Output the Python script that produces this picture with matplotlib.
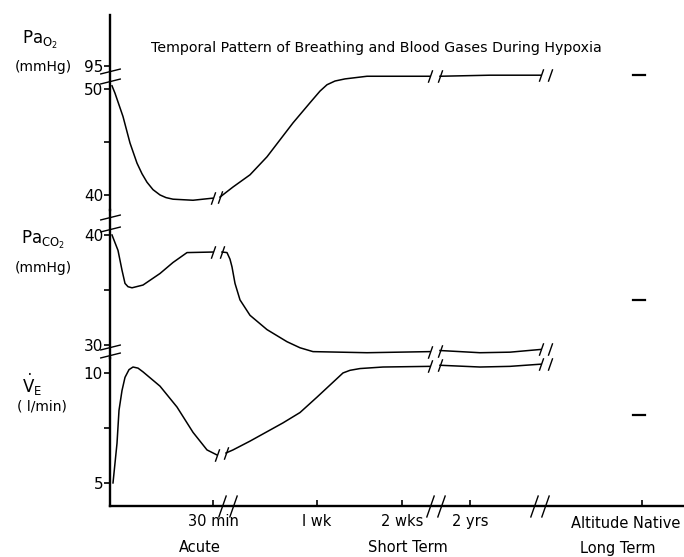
import numpy as np
import matplotlib
matplotlib.use('Agg')
import matplotlib.pyplot as plt

plt.rcParams['font.family'] = ['DejaVu Sans']
plt.rcParams['mathtext.fontset'] = 'dejavusans'

# time axis (arbitrary position units)
tick_pos = [10.3, 20.7, 29.2, 36.0, 53.2]
tick_lab = ['30 min', 'l wk', '2 wks', '2 yrs', '']
phase_lab = ['Acute', 'Short Term', 'Long Term']
phase_pos = [9.0, 29.8, 50.8]

# PaO2 (mmHg)
pao2_acute_x = [0.2, 0.5, 1.3, 2.0, 2.7, 3.2, 3.7, 4.3, 5.0, 5.6, 6.3, 8.3, 10.3]
pao2_acute = [50.3, 49.6, 47.4, 44.9, 43.0, 42.0, 41.2, 40.5, 40.0, 39.75, 39.6, 39.5, 39.7]
pao2_short_x = [11.0, 12.3, 14.0, 15.7, 17.0, 18.3, 20.0, 21.0, 21.7, 22.5, 23.5, 25.7, 29.0, 32.0]
pao2_short = [39.8, 40.75, 41.9, 43.6, 45.2, 46.8, 48.7, 49.8, 50.4, 50.75, 50.95, 51.2, 51.2, 51.2]
pao2_long_x = [33.0, 38.0, 43.1]
pao2_long = [51.2, 51.3, 51.3]
pao2_native = 51.3

# PaCO2 (mmHg)
paco2_acute_x = [0.2, 0.8, 1.2, 1.5, 1.8, 2.2, 3.3, 5.0, 6.3, 7.7, 10.3]
paco2_acute = [40.0, 38.6, 36.8, 35.6, 35.3, 35.2, 35.45, 36.5, 37.5, 38.4, 38.45]
paco2_short_x = [11.2, 11.7, 12.0, 12.2, 12.5, 13.0, 14.0, 15.7, 17.7, 19.0, 20.3, 25.7, 32.0]
paco2_short = [38.45, 38.4, 37.8, 37.1, 35.6, 34.1, 32.7, 31.4, 30.3, 29.75, 29.4, 29.3, 29.4]
paco2_long_x = [33.0, 37.0, 40.0, 43.1]
paco2_long = [29.5, 29.3, 29.35, 29.6]
paco2_native = 34.1

# VE (l/min)
ve_acute_x = [0.3, 0.7, 0.9, 1.2, 1.5, 1.9, 2.3, 2.8, 3.3, 5.0, 6.7, 8.3, 9.7, 10.7]
ve_acute = [5.0, 6.8, 8.3, 9.2, 9.8, 10.15, 10.27, 10.22, 10.05, 9.4, 8.45, 7.3, 6.5, 6.27]
ve_short_x = [11.6, 12.3, 14.0, 17.3, 19.0, 20.7, 22.0, 23.3, 24.0, 25.0, 27.3, 32.0]
ve_short = [6.36, 6.5, 6.9, 7.73, 8.2, 8.9, 9.45, 10.0, 10.12, 10.2, 10.27, 10.3]
ve_long_x = [33.0, 37.0, 40.0, 43.1]
ve_long = [10.35, 10.27, 10.3, 10.4]
ve_native = 8.1

W, H = 684, 557
fig = plt.figure(figsize=(W / 100, H / 100), dpi=100)

def px_axes(top, bottom, left=110, right=684):
    return fig.add_axes([left / W, 1 - bottom / H, (right - left) / W, (bottom - top) / H])

ax1 = px_axes(15, 210)
ax2 = px_axes(210, 358)
ax3 = px_axes(358, 506)

ax1.set_ylim(38.58, 56.98)
ax2.set_ylim(28.82, 42.27)
ax3.set_ylim(3.95, 10.68)

slash = [(-0.35, -1), (0.35, 1)]
hslash = [(-1, -0.25), (1, 0.25)]

def brk(ax, xs, ys, size=9):
    ax.plot(xs, ys, ls='none', marker=slash, ms=size, mec='black', mfc='none',
            mew=1.0, clip_on=False)

def ybrk(ax, ys):
    ax.plot([0] * len(ys), ys, ls='none', marker=hslash, ms=15, mec='black',
            mfc='none', mew=1.0, clip_on=False)

lw = 1.1
for ax in (ax1, ax2, ax3):
    ax.set_xlim(0, 57.4)
    ax.patch.set_alpha(0)
    for s in ('top', 'right', 'bottom'):
        ax.spines[s].set_visible(False)
    ax.spines['left'].set_linewidth(1.7)
    ax.tick_params(axis='y', direction='out', length=4, width=1.2, pad=1, labelsize=11)
    ax.set_xticks([])

# PaO2
ax1.plot(pao2_acute_x, pao2_acute, 'k-', lw=lw)
ax1.plot(pao2_short_x, pao2_short, 'k-', lw=lw)
ax1.plot(pao2_long_x, pao2_long, 'k-', lw=lw)
brk(ax1, [pao2_acute_x[-1], pao2_short_x[0]], [pao2_acute[-1], pao2_short[0]])
brk(ax1, [pao2_short_x[-1], pao2_long_x[0]], [pao2_short[-1], pao2_long[0]])
brk(ax1, [pao2_long_x[-1], pao2_long_x[-1] + 0.9], [pao2_long[-1]] * 2)
ax1.plot([52.3, 53.5], [pao2_native] * 2, 'k-', lw=1.6)
ax1.set_yticks([40, 45, 50, 52.17], ['40', '', '50', '95'])
ybrk(ax1, [51.7, 50.75])

# PaCO2
ax2.plot(paco2_acute_x, paco2_acute, 'k-', lw=lw)
ax2.plot(paco2_short_x, paco2_short, 'k-', lw=lw)
ax2.plot(paco2_long_x, paco2_long, 'k-', lw=lw)
brk(ax2, [paco2_acute_x[-1], paco2_short_x[0]], [paco2_acute[-1], paco2_short[0]])
brk(ax2, [paco2_short_x[-1], paco2_long_x[0]], [paco2_short[-1], paco2_long[0]])
brk(ax2, [paco2_long_x[-1], paco2_long_x[-1] + 0.9], [paco2_long[-1]] * 2)
ax2.plot([52.3, 53.5], [paco2_native] * 2, 'k-', lw=1.6)
ax2.set_yticks([30, 35, 40], ['30', '', '40'])
ybrk(ax2, [41.6, 40.55, 29.8, 29.1])

# VE
ax3.plot(ve_acute_x, ve_acute, 'k-', lw=lw)
ax3.plot(ve_short_x, ve_short, 'k-', lw=lw)
ax3.plot(ve_long_x, ve_long, 'k-', lw=lw)
brk(ax3, [ve_acute_x[-1], ve_short_x[0]], [ve_acute[-1], ve_short[0]])
brk(ax3, [ve_short_x[-1], ve_long_x[0]], [ve_short[-1], ve_long[0]])
brk(ax3, [ve_long_x[-1], ve_long_x[-1] + 0.9], [ve_long[-1]] * 2)
ax3.plot([52.3, 53.5], [ve_native] * 2, 'k-', lw=1.6)
ax3.set_yticks([5, 7.5, 10], ['5', '', '10'])

# time axis
ax3.spines['bottom'].set_visible(True)
ax3.spines['bottom'].set_linewidth(1.7)
ax3.set_xticks(tick_pos, tick_lab)
ax3.tick_params(axis='x', direction='in', length=4, width=1.2, pad=6, labelsize=10.5)
for x0 in (11.2, 32.0, 42.4):
    ax3.plot([x0, x0 + 1.1], [3.95, 3.95], ls='none', marker=slash, ms=16,
             mec='black', mfc='none', mew=1.0, clip_on=False)
ax3.text(51.6, 3.95 - 10 / 22, 'Altitude Native', ha='center', va='top', fontsize=10.5,
         clip_on=False)
for p, lab in zip(phase_pos, phase_lab):
    fig.text((110 + p * 10) / W, 1 - 548 / H, lab, ha='center', va='center', fontsize=10.5)

# axis labels
fig.text(40 / W, 1 - 40 / H, r'$\mathrm{Pa_{O_2}}$', ha='center', va='center', fontsize=12)
fig.text(43 / W, 1 - 67 / H, '(mmHg)', ha='center', va='center', fontsize=10)
fig.text(43 / W, 1 - 240 / H, r'$\mathrm{Pa_{CO_2}}$', ha='center', va='center', fontsize=12)
fig.text(43 / W, 1 - 268 / H, '(mmHg)', ha='center', va='center', fontsize=10)
fig.text(32 / W, 1 - 385 / H, r'$\dot{\mathrm{V}}_{\mathrm{E}}$', ha='center', va='center', fontsize=12)
fig.text(42 / W, 1 - 407 / H, '( l/min)', ha='center', va='center', fontsize=10)

fig.text(376 / W, 1 - 48 / H, 'Temporal Pattern of Breathing and Blood Gases During Hypoxia',
         ha='center', va='center', fontsize=10.2)

fig.savefig('out.png', dpi=100)
